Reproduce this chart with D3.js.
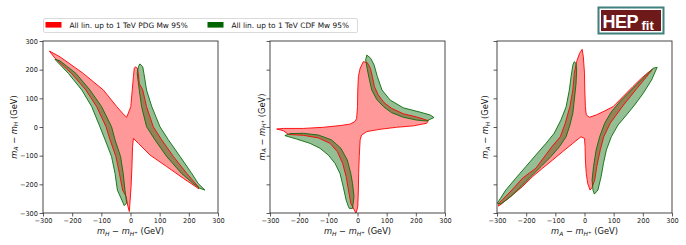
<!DOCTYPE html>
<html><head><meta charset="utf-8">
<script src="https://cdn.jsdelivr.net/npm/d3@7"></script>
<style>body{margin:0;background:#fff}svg{display:block;font-family:"DejaVu Sans",sans-serif}</style>
</head><body><svg id="c" width="686" height="245"></svg>
<script>
// ---------------- data ----------------
const xTicks = [-300, -200, -100, 0, 100, 200, 300];
const yTicks = [-300, -200, -100, 0, 100, 200, 300];
const seriesNames = ["All lin. up to 1 TeV PDG Mw 95%", "All lin. up to 1 TeV CDF Mw 95%"];

// Panel 1: x = mH - mH+, y = mA - mH
const p1Red = [[-278,265],[-242,245],[-162,187],[-93,129],[-47,71],[-22,42],[-13,34],[1,71],[6,129],[10,176],[13,205],[17,210],[23,205],[27,187],[30,152],[42,129],[55,71],[78,1],[107,-45],[147,-103],[193,-162],[232,-208],[235,-216],[181,-179],[124,-138],[67,-98],[27,-57],[10,-40],[7,-69],[5,-138],[2,-208],[-2,-266],[-4,-295],[-10,-272],[-15,-243],[-27,-220],[-38,-162],[-50,-103],[-70,-45],[-84,1],[-116,71],[-153,129],[-202,187],[-259,240]];
const p1GreenLeft = [[-259,236],[-213,187],[-167,129],[-133,71],[-105,1],[-87,-45],[-65,-103],[-53,-162],[-45,-220],[-25,-266],[-22,-274],[-13,-266],[-19,-220],[-25,-162],[-34,-103],[-53,-45],[-65,1],[-99,71],[-139,129],[-187,187],[-242,231]];
const p1GreenRight = [[32,220],[42,210],[46,187],[55,129],[73,71],[101,1],[130,-45],[170,-103],[210,-162],[232,-197],[255,-220],[238,-214],[215,-197],[175,-162],[124,-103],[84,-45],[55,1],[38,71],[30,129],[23,187],[27,210]];

// Panel 2: x = mH - mH+, y = mA - mH+
const p2Red = [[20,228],[9,205],[3,176],[1,129],[0,71],[-3,30],[-9,19],[-26,10],[-60,5],[-117,-1],[-186,-5],[-254,-5],[-277,-7],[-254,-13],[-237,-26],[-186,-29],[-134,-38],[-94,-57],[-69,-86],[-51,-127],[-39,-173],[-31,-220],[-23,-266],[-5,-301],[1,-278],[3,-220],[4,-162],[6,-103],[9,-45],[14,-28],[32,-16],[77,-8],[134,-1],[192,4],[237,13],[243,22],[203,35],[157,46],[117,65],[91,85],[71,112],[58,141],[51,176],[44,205],[34,224]];
const p2GreenUpper = [[32,251],[45,240],[57,216],[68,176],[84,129],[112,94],[157,67],[214,52],[249,42],[262,33],[237,21],[203,24],[157,34],[117,50],[89,71],[66,96],[49,129],[41,164],[34,199],[28,234]];
const p2GreenLower = [[-249,-30],[-209,-42],[-163,-57],[-129,-74],[-100,-98],[-77,-127],[-60,-162],[-49,-208],[-39,-255],[-31,-278],[-28,-284],[-17,-284],[-12,-243],[-17,-197],[-23,-162],[-35,-115],[-57,-74],[-89,-45],[-134,-28],[-186,-22],[-231,-23]];

// Panel 3: x = mA - mH+, y = mA - mH
const p3Red = [[-8,271],[-4,245],[0,187],[1,129],[3,71],[6,42],[17,34],[40,42],[63,53],[98,71],[132,106],[166,141],[195,170],[218,190],[233,201],[222,187],[180,135],[134,77],[88,13],[66,-34],[54,-80],[42,-138],[35,-185],[26,-211],[19,-220],[11,-197],[6,-162],[3,-115],[2,-69],[0,-40],[-12,-34],[-40,-57],[-75,-86],[-109,-115],[-144,-144],[-178,-173],[-213,-208],[-247,-237],[-282,-266],[-295,-276],[-293,-266],[-249,-220],[-213,-179],[-167,-144],[-112,-69],[-83,-34],[-66,13],[-50,71],[-40,129],[-35,187],[-27,228],[-17,257]];
const p3GreenUpper = [[-35,228],[-40,216],[-46,176],[-52,129],[-63,71],[-81,24],[-104,-22],[-132,-57],[-167,-98],[-201,-138],[-236,-179],[-270,-220],[-299,-266],[-287,-269],[-253,-243],[-218,-208],[-184,-173],[-149,-138],[-115,-103],[-86,-69],[-63,-34],[-50,7],[-40,48],[-35,94],[-29,152],[-27,199],[-29,222]];
const p3GreenLower = [[34,-234],[46,-220],[57,-173],[65,-127],[75,-80],[92,-34],[115,7],[144,42],[172,77],[201,117],[230,164],[249,208],[235,205],[207,176],[178,147],[149,117],[121,88],[92,53],[69,13],[52,-34],[40,-80],[31,-138],[26,-185],[29,-220]];

// ---------------- layout ----------------
const W = 175, H = 172, TOP = 41;
const panels = [
  {left: 43,  red: p1Red, greens: [p1GreenLeft, p1GreenRight], xLab: ["m","H","H+"], yLab: ["m","A","H"], yTickLabels: true, ylx: 13.5},
  {left: 270, red: p2Red, greens: [p2GreenUpper, p2GreenLower], xLab: ["m","H","H+"], yLab: ["m","A","H+"], yTickLabels: false, ylx: 261.5},
  {left: 497, red: p3Red, greens: [p3GreenUpper, p3GreenLower], xLab: ["m","A","H+"], yLab: ["m","A","H"], yTickLabels: false, ylx: 485}
];
const redFill = "rgba(255,0,0,0.4)", redLine = "#ff0000";
const greenFill = "rgba(0,100,0,0.42)", greenLine = "#0b6b0b";

const svg = d3.select("#c");
const fmt = d => d < 0 ? "\u2212" + Math.abs(d) : String(d);

function mathLabel(textSel, a, b) {
  const parts = [
    {t: "m", it: true, sh: 0, fs: 1},
    {t: a[1], it: true, sh: 0.22, fs: 0.72},
    {t: " \u2212 ", it: false, sh: 0, fs: 1},
    {t: "m", it: true, sh: 0, fs: 1},
  ];
  const sub = b[2];
  if (sub === "H+") {
    parts.push({t: "H", it: true, sh: 0.22, fs: 0.72});
    parts.push({t: "+", it: false, sh: -0.05, fs: 0.5});
  } else {
    parts.push({t: sub, it: true, sh: 0.22, fs: 0.72});
  }
  parts.push({t: " (GeV)", it: false, sh: 0, fs: 1});
  let cur = 0;
  const base = parseFloat(textSel.attr("font-size"));
  parts.forEach(p => {
    const dy = (p.sh - cur) * base;
    cur = p.sh;
    textSel.append("tspan").attr("dy", dy.toFixed(2))
      .attr("font-style", p.it ? "italic" : "normal")
      .attr("font-size", (p.fs * base).toFixed(2))
      .text(p.t);
  });
}

const defs = svg.append("defs");

panels.forEach((p, i) => {
  const x = d3.scaleLinear().domain([-300, 300]).range([0, W]);
  const y = d3.scaleLinear().domain([-300, 300]).range([H, 0]);
  const line = d3.line().x(d => x(d[0])).y(d => y(d[1]));
  const g = svg.append("g").attr("transform", `translate(${p.left},${TOP})`);

  defs.append("clipPath").attr("id", "clip" + i)
    .append("rect").attr("width", W).attr("height", H);
  const plot = g.append("g").attr("clip-path", `url(#clip${i})`);

  plot.append("path").attr("d", line(p.red) + "Z").attr("fill", redFill).attr("stroke", "none");
  p.greens.forEach(gr => plot.append("path").attr("d", line(gr) + "Z").attr("fill", greenFill).attr("stroke", "none"));
  plot.append("path").attr("d", line(p.red) + "Z").attr("fill", "none").attr("stroke", redLine).attr("stroke-width", 0.9).attr("stroke-linejoin", "round");
  p.greens.forEach(gr => plot.append("path").attr("d", line(gr) + "Z").attr("fill", "none").attr("stroke", greenLine).attr("stroke-width", 0.9).attr("stroke-linejoin", "round"));

  const xa = g.append("g").attr("transform", `translate(0,${H})`)
    .call(d3.axisBottom(x).tickValues(xTicks).tickSize(3.5).tickPadding(1.8).tickFormat(fmt));
  const ya = g.append("g")
    .call(d3.axisLeft(y).tickValues(yTicks).tickSize(3.5).tickPadding(1.5).tickFormat(p.yTickLabels ? fmt : () => ""));
  [xa, ya].forEach(a => {
    a.select(".domain").remove();
    a.selectAll(".tick line").attr("stroke", "#333").attr("stroke-width", 0.8);
    a.selectAll(".tick text").attr("font-size", 6.6).attr("fill", "#222").attr("font-family", "DejaVu Sans");
  });

  g.append("rect").attr("width", W).attr("height", H).attr("fill", "none").attr("stroke", "#333").attr("stroke-width", 0.9);

  const xl = svg.append("text").attr("x", p.left + W / 2).attr("y", 234).attr("text-anchor", "middle")
    .attr("font-size", 8.3).attr("fill", "#111");
  mathLabel(xl, p.xLab, p.xLab);
  const yl = svg.append("text").attr("transform", `translate(${p.ylx + 3},${TOP + H / 2}) rotate(-90)`)
    .attr("text-anchor", "middle").attr("font-size", 8.3).attr("fill", "#111");
  mathLabel(yl, p.yLab, p.yLab);
});

// ---------------- legend ----------------
const lg = svg.append("g");
lg.append("rect").attr("x", 43.5).attr("y", 18.5).attr("width", 314).attr("height", 14).attr("rx", 1.5)
  .attr("fill", "#fff").attr("stroke", "#d0d0d0").attr("stroke-width", 0.8);
const legendColors = ["#ff0000", "#006400"];
const legendX = [45.5, 207.5];
seriesNames.forEach((s, i) => {
  lg.append("rect").attr("x", legendX[i]).attr("y", 22).attr("width", 16).attr("height", 5.6).attr("fill", legendColors[i]);
  lg.append("text").attr("x", legendX[i] + 24).attr("y", 27.9).attr("font-size", 7.4).attr("fill", "#111").text(s);
});

// ---------------- logo ----------------
const logo = svg.append("g");
logo.append("rect").attr("x", 598.5).attr("y", 7.5).attr("width", 65).attr("height", 26).attr("fill", "#fff").attr("stroke", "#3f7f7c").attr("stroke-width", 2);
logo.append("rect").attr("x", 601).attr("y", 10).attr("width", 60).attr("height", 21).attr("fill", "#6e1a1a");
logo.append("text").attr("x", 602.5).attr("y", 28).attr("font-size", 18).attr("font-weight", "bold")
  .attr("font-family", "Liberation Sans Narrow, Liberation Sans, sans-serif").attr("fill", "#fff").attr("letter-spacing", -0.5).text("HEP");
logo.append("text").attr("x", 641.5).attr("y", 29.5).attr("font-size", 13).attr("font-weight", "bold")
  .attr("font-family", "Liberation Sans Narrow, Liberation Sans, sans-serif").attr("fill", "#fff").text("fit");
</script>
</body></html>
